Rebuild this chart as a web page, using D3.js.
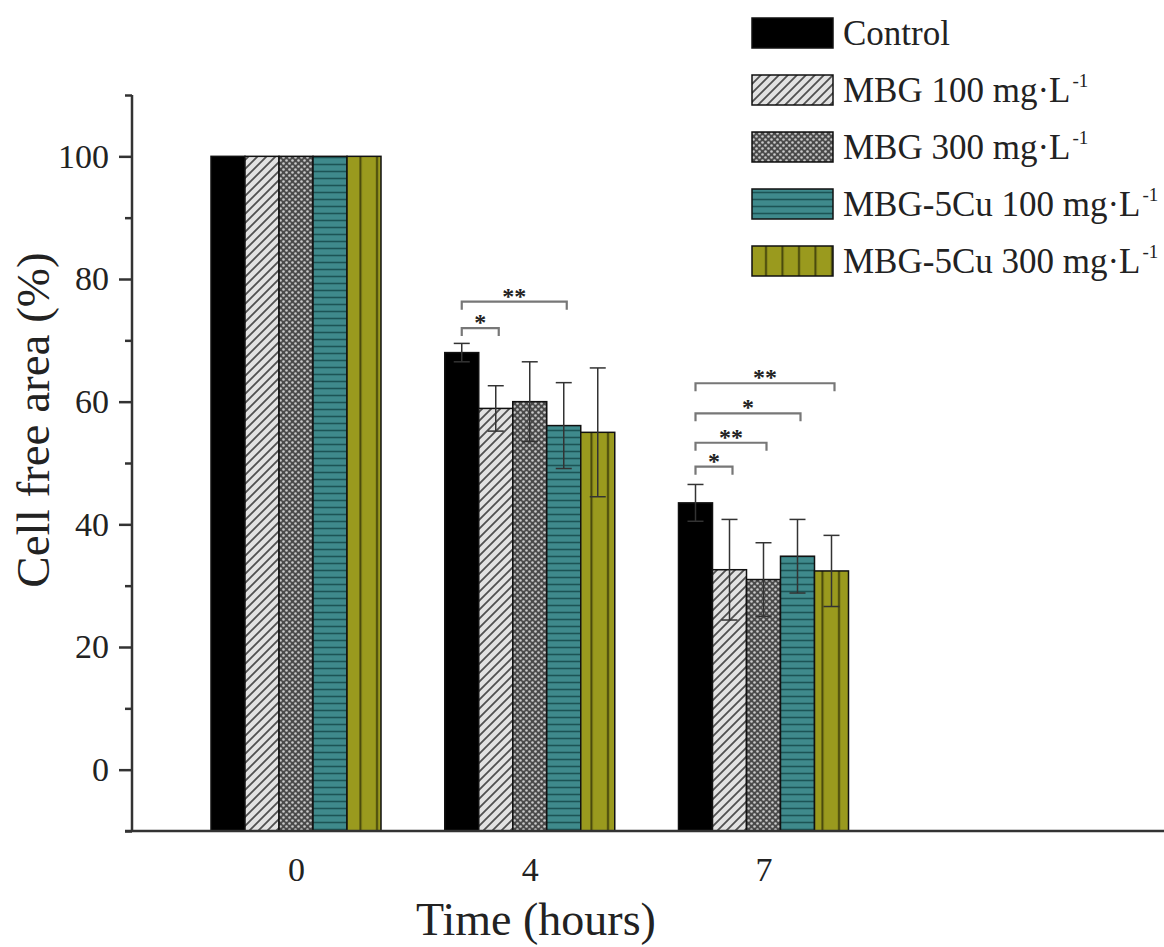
<!DOCTYPE html>
<html>
<head>
<meta charset="utf-8">
<script src="https://cdn.jsdelivr.net/npm/d3@7/dist/d3.min.js"></script>
<style>
  html, body { margin: 0; padding: 0; background: #ffffff; }
  svg { display: block; }
  text { font-family: "Liberation Serif", "Times New Roman", serif; fill: #222; }
</style>
</head>
<body>
<svg id="chart" width="1164" height="947"></svg>
<script>
// ---- Data ----
const times = ["0", "4", "7"];
const seriesNames = ["Control", "MBG 100 mg·L", "MBG 300 mg·L", "MBG-5Cu 100 mg·L", "MBG-5Cu 300 mg·L"];
const seriesSup = ["", "-1", "-1", "-1", "-1"];

const controlValues = [100, 68.0, 43.5];
const mbg100Values  = [100, 58.9, 32.6];
const mbg300Values  = [100, 60.0, 31.0];
const cu100Values   = [100, 56.1, 34.8];
const cu300Values   = [100, 55.0, 32.4];

const controlErr = [0, 1.5, 3.0];
const mbg100Err  = [0, 3.7, 8.2];
const mbg300Err  = [0, 6.5, 6.0];
const cu100Err   = [0, 7.0, 6.0];
const cu300Err   = [0, 10.5, 5.8];

const yTicks = [0, 20, 40, 60, 80, 100];
const yMinorTicks = [-10, 10, 30, 50, 70, 90, 110];

// significance brackets: time, from series, to series, level (data units), label
const bracketTime  = ["4", "4", "7", "7", "7", "7"];
const bracketFrom  = [0, 0, 0, 0, 0, 0];
const bracketTo    = [1, 3, 1, 2, 3, 4];
const bracketLevel = [72.0, 76.3, 49.4, 53.3, 58.1, 63.0];
const bracketLabel = ["*", "**", "*", "**", "*", "**"];

const allValues = [controlValues, mbg100Values, mbg300Values, cu100Values, cu300Values];
const allErrors = [controlErr, mbg100Err, mbg300Err, cu100Err, cu300Err];

// ---- Layout ----
const svg = d3.select("#chart");
const axisX = 132, axisBottom = 831, axisTop = 95, axisRight = 1164;

const y = d3.scaleLinear().domain([-10, 110]).range([axisBottom, axisTop]);
const xGroup = d3.scalePoint().domain(times).range([296, 763.5]);
const xSeries = d3.scaleBand().domain(d3.range(seriesNames.length)).range([-85, 85]).padding(0);

// ---- Patterns ----
const defs = svg.append("defs");
const fills = ["#000000", "url(#pDiag)", "url(#pDots)", "url(#pHor)", "url(#pVer)"];

const pDiag = defs.append("pattern").attr("id", "pDiag").attr("patternUnits", "userSpaceOnUse")
  .attr("width", 9).attr("height", 9);
pDiag.append("rect").attr("width", 9).attr("height", 9).attr("fill", "#e2e2e2");
pDiag.append("path").attr("d", "M-2.25,2.25 L2.25,-2.25 M0,9 L9,0 M6.75,11.25 L11.25,6.75")
  .attr("stroke", "#505050").attr("stroke-width", 1.8);

const pDots = defs.append("pattern").attr("id", "pDots").attr("patternUnits", "userSpaceOnUse")
  .attr("width", 6).attr("height", 6);
pDots.append("rect").attr("width", 6).attr("height", 6).attr("fill", "#4a4a4a");
[[1.5, 1.5], [4.5, 4.5]].forEach(p => pDots.append("circle").attr("cx", p[0]).attr("cy", p[1]).attr("r", 1.3).attr("fill", "#c9c9c9"));

const pHor = defs.append("pattern").attr("id", "pHor").attr("patternUnits", "userSpaceOnUse")
  .attr("width", 10).attr("height", 7);
pHor.append("rect").attr("width", 10).attr("height", 7).attr("fill", "#3f8a8c");
pHor.append("line").attr("x1", 0).attr("x2", 10).attr("y1", 3.5).attr("y2", 3.5)
  .attr("stroke", "#1c5455").attr("stroke-width", 1.6);

const pVer = defs.append("pattern").attr("id", "pVer").attr("patternUnits", "userSpaceOnUse")
  .attr("width", 16.5).attr("height", 10).attr("x", 6);
pVer.append("rect").attr("width", 16.5).attr("height", 10).attr("fill", "#9a9a1e");
pVer.append("line").attr("x1", 8).attr("x2", 8).attr("y1", 0).attr("y2", 10)
  .attr("stroke", "#46460c").attr("stroke-width", 2);

// ---- Bars ----
const barData = [];
times.forEach((t, ti) => {
  seriesNames.forEach((s, si) => {
    barData.push({ t, si, v: allValues[si][ti], e: allErrors[si][ti] });
  });
});

const barW = xSeries.bandwidth();
svg.append("g").selectAll("rect").data(barData).enter().append("rect")
  .attr("x", d => xGroup(d.t) + xSeries(d.si))
  .attr("y", d => y(d.v))
  .attr("width", barW)
  .attr("height", d => axisBottom - y(d.v))
  .attr("fill", d => fills[d.si])
  .attr("stroke", "#111")
  .attr("stroke-width", 1.5);

// ---- Error bars ----
const eb = svg.append("g").attr("stroke", "#333").attr("stroke-width", 1.5);
const capW = 16;
barData.filter(d => d.e > 0).forEach(d => {
  const cx = xGroup(d.t) + xSeries(d.si) + barW / 2;
  eb.append("line").attr("x1", cx).attr("x2", cx).attr("y1", y(d.v - d.e)).attr("y2", y(d.v + d.e));
  eb.append("line").attr("x1", cx - capW / 2).attr("x2", cx + capW / 2).attr("y1", y(d.v + d.e)).attr("y2", y(d.v + d.e));
  eb.append("line").attr("x1", cx - capW / 2).attr("x2", cx + capW / 2).attr("y1", y(d.v - d.e)).attr("y2", y(d.v - d.e));
});

// ---- Significance brackets ----
const br = svg.append("g");
bracketTime.forEach((t, i) => {
  const x1 = xGroup(t) + xSeries(bracketFrom[i]) + barW / 2;
  const x2 = xGroup(t) + xSeries(bracketTo[i]) + barW / 2 + 3;
  const yy = y(bracketLevel[i]);
  br.append("path")
    .attr("d", `M${x1},${yy + 8} L${x1},${yy} L${x2},${yy} L${x2},${yy + 8}`)
    .attr("fill", "none").attr("stroke", "#777").attr("stroke-width", 2.2);
  br.append("text")
    .attr("x", (x1 + x2) / 2).attr("y", yy + 2)
    .attr("text-anchor", "middle")
    .style("font-size", "24px").style("font-weight", "bold")
    .text(bracketLabel[i]);
});

// ---- Axes ----
const yAxis = d3.axisLeft(y).tickValues(yTicks).tickSize(13).tickPadding(10).tickFormat(d3.format("d"));
const gy = svg.append("g").attr("transform", `translate(${axisX},0)`).call(yAxis);
gy.select(".domain").remove();
gy.selectAll(".tick line").attr("stroke", "#333").attr("stroke-width", 2.5);
gy.selectAll(".tick text").style("font-family", "Liberation Serif, serif").style("font-size", "34px").attr("fill", "#222");

const yMinor = d3.axisLeft(y).tickValues(yMinorTicks).tickSize(7).tickFormat("");
const gym = svg.append("g").attr("transform", `translate(${axisX},0)`).call(yMinor);
gym.select(".domain").remove();
gym.selectAll(".tick line").attr("stroke", "#333").attr("stroke-width", 2.5);

svg.append("line").attr("x1", axisX).attr("x2", axisX).attr("y1", axisTop).attr("y2", axisBottom)
  .attr("stroke", "#333").attr("stroke-width", 2.5);

const xAxis = d3.axisBottom(xGroup).tickSize(0).tickPadding(26);
const gx = svg.append("g").attr("transform", `translate(0,${axisBottom})`).call(xAxis);
gx.select(".domain").remove();
gx.selectAll(".tick text").style("font-family", "Liberation Serif, serif").style("font-size", "34px").attr("fill", "#222");
svg.append("line").attr("x1", 125).attr("x2", axisRight).attr("y1", axisBottom).attr("y2", axisBottom)
  .attr("stroke", "#333").attr("stroke-width", 2.5);

// ---- Axis titles ----
svg.append("text").attr("transform", "translate(49,420) rotate(-90)")
  .attr("text-anchor", "middle").style("font-size", "47px").text("Cell free area (%)");
svg.append("text").attr("x", 536).attr("y", 935)
  .attr("text-anchor", "middle").style("font-size", "46px").text("Time (hours)");

// ---- Legend ----
const legend = svg.append("g").attr("transform", "translate(752,18)");
seriesNames.forEach((s, i) => {
  const g = legend.append("g").attr("transform", `translate(0,${i * 57})`);
  g.append("rect").attr("width", 81).attr("height", 30)
    .attr("fill", fills[i]).attr("stroke", "#111").attr("stroke-width", 1.5);
  const tx = g.append("text").attr("x", 91).attr("y", 27).style("font-size", "35px");
  tx.append("tspan").text(s);
  if (seriesSup[i]) {
    tx.append("tspan").attr("dy", -15).attr("dx", 2).style("font-size", "19px").text(seriesSup[i]);
  }
});
</script>
</body>
</html>
